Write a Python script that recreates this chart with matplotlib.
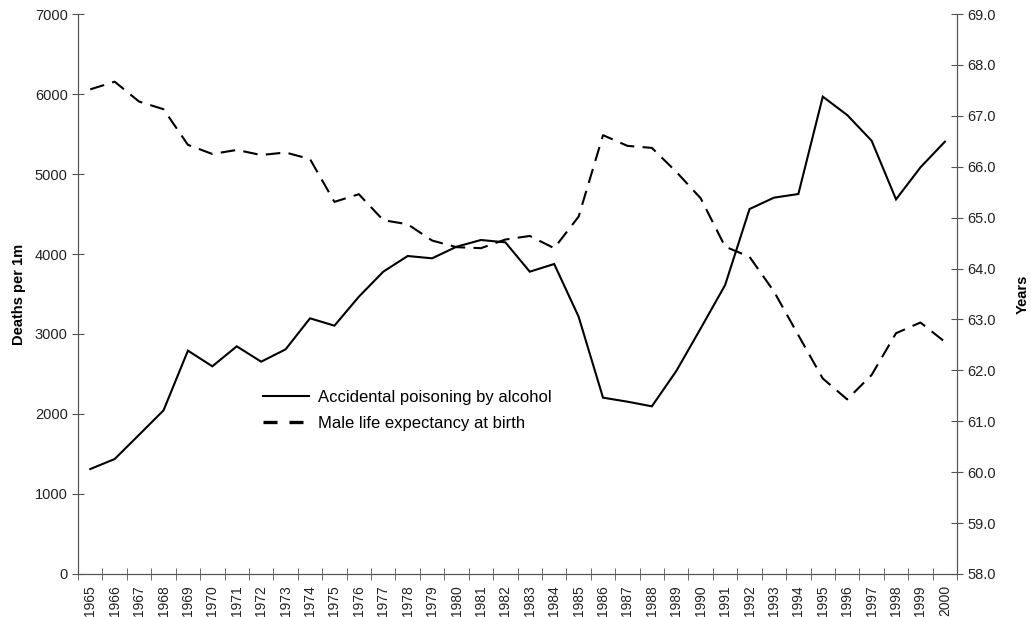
import numpy as np
import matplotlib.pyplot as plt

plt.rcParams['font.family'] = ['Liberation Sans', 'DejaVu Sans']

years = list(range(1965, 2001))

# deaths per 1m, accidental poisoning by alcohol
poisoning = [1312, 1437, 1740, 2045, 2792, 2596, 2846, 2654, 2808, 3196,
             3104, 3466, 3779, 3975, 3946, 4091, 4175, 4146, 3779, 3875,
             3217, 2204, 2154, 2096, 2537, 3070, 3612, 4562, 4704, 4750,
             5967, 5737, 5416, 4683, 5083, 5404]

# male life expectancy at birth, years
life_exp = [67.52, 67.67, 67.28, 67.13, 66.43, 66.25, 66.33, 66.23, 66.28, 66.15,
            65.31, 65.46, 64.95, 64.87, 64.55, 64.42, 64.40, 64.57, 64.64, 64.40,
            65.02, 66.62, 66.41, 66.37, 65.90, 65.38, 64.43, 64.23, 63.55, 62.69,
            61.84, 61.43, 61.91, 62.73, 62.94, 62.56]

axis_col = '#555555'
x = np.arange(len(years))

fig = plt.figure(figsize=(10.31, 6.17), dpi=100)
ax = fig.add_axes([0.0757, 0.0697, 0.8526, 0.9076])
ax2 = ax.twinx()

l1, = ax.plot(x, poisoning, color='black', lw=1.5, solid_joinstyle='miter')
l2, = ax2.plot(x, life_exp, color='black', lw=1.5, dashes=(7, 4))

ax.set_xlim(-0.5, len(years) - 0.5)
ax.set_ylim(0, 7000)
ax.set_yticks(range(0, 7001, 1000))
ax2.set_ylim(58, 69)
ax2.set_yticks(np.arange(58, 69.01, 1.0))
ax2.set_yticklabels([f'{v:.1f}' for v in np.arange(58, 69.01, 1.0)])

ax.set_xticks(x)
ax.set_xticklabels([str(y) for y in years], rotation=90)
ax.set_xticks(np.arange(-0.5, len(years), 1.0), minor=True)
ax.tick_params(axis='x', which='major', length=0, pad=8)
ax.tick_params(axis='x', which='minor', direction='inout', length=8, color=axis_col)

for a in (ax, ax2):
    a.spines['top'].set_visible(False)
    for s in ('left', 'right', 'bottom'):
        a.spines[s].set_color(axis_col)
    a.tick_params(axis='y', direction='inout', length=8, color=axis_col,
                  labelsize=10.5, labelcolor='#222222')
ax.tick_params(axis='x', labelsize=10, labelcolor='#222222')

ax.set_ylabel('Deaths per 1m', fontsize=10.5, fontweight='bold', labelpad=6)
ax2.set_ylabel('Years', fontsize=10.5, fontweight='bold', labelpad=14)

leg = fig.legend([l1, l2], ['Accidental poisoning by alcohol', 'Male life expectancy at birth'],
                 loc='center left', bbox_to_anchor=(0.2408, 0.335), frameon=False,
                 fontsize=12, handlelength=2.76, handletextpad=0.55, labelspacing=0.66)
# heavier dashes on the legend key
leg.get_lines()[1].set_linewidth(2.4)
leg.get_lines()[1].set_dashes((4.2, 3.6))

fig.savefig('out.png', dpi=100)
